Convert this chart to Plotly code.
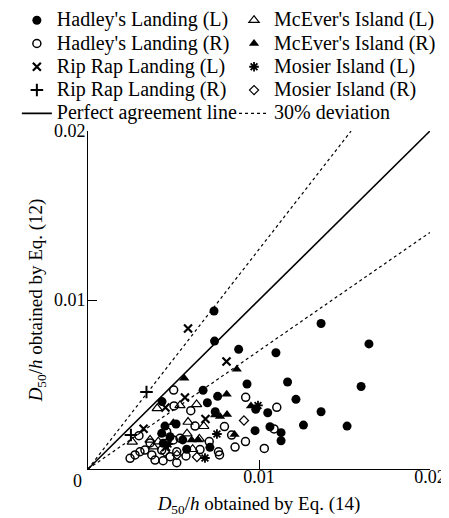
import plotly.graph_objects as go

# ---- data (D50/h by Eq. 14 -> x, by Eq. 12 -> y) ----
hadley_L_x = [0.00737, 0.00740, 0.00881, 0.01099, 0.01363, 0.01643, 0.00930, 0.01167, 0.01597, 0.01216,
              0.01363, 0.01051, 0.01260, 0.01515, 0.00977, 0.01064, 0.01129, 0.01129, 0.00673, 0.00758,
              0.00698, 0.00981, 0.00433, 0.00744, 0.00577, 0.00713, 0.00480, 0.00450, 0.00431, 0.00440,
              0.00515, 0.00554]
hadley_L_y = [0.00935, 0.00757, 0.00708, 0.00688, 0.00861, 0.00740, 0.00503, 0.00515, 0.00488, 0.00412,
              0.00339, 0.00333, 0.00260, 0.00254, 0.00227, 0.00250, 0.00215, 0.00167, 0.00466, 0.00430,
              0.00392, 0.00353, 0.00399, 0.00339, 0.00117, 0.00128, 0.00191, 0.00254, 0.00211, 0.00152,
              0.00266, 0.00172]

hadley_R_x = [0.00501, 0.00922, 0.01104, 0.00503, 0.00601, 0.00626, 0.00798, 0.01088, 0.00921, 0.00860,
              0.01031, 0.00655, 0.00763, 0.00769, 0.00709, 0.00460, 0.00298, 0.00246, 0.00275, 0.00304,
              0.00333, 0.00373, 0.00392, 0.00480, 0.00519, 0.00439, 0.00499, 0.00538, 0.00460, 0.00431,
              0.00519, 0.00840, 0.00573, 0.00363]
hadley_R_y = [0.00467, 0.00424, 0.00365, 0.00373, 0.00345, 0.00254, 0.00251, 0.00237, 0.00162, 0.00130,
              0.00122, 0.00115, 0.00102, 0.00083, 0.00162, 0.00221, 0.00197, 0.00063, 0.00083, 0.00102,
              0.00112, 0.00083, 0.00053, 0.00073, 0.00037, 0.00049, 0.00172, 0.00182, 0.00152, 0.00112,
              0.00102, 0.00201, 0.00077, 0.00154]

ripr_L_x = [0.00585, 0.00810, 0.00567, 0.00453, 0.00687, 0.00325, 0.00456]
ripr_L_y = [0.00831, 0.00636, 0.00423, 0.00364, 0.00296, 0.00238, 0.00130]

ripr_R_x = [0.00342, 0.00251]
ripr_R_y = [0.00456, 0.00201]

mcever_L_x = [0.00405, 0.00538, 0.00635, 0.00585, 0.00677, 0.00579, 0.00651, 0.00259, 0.00363, 0.00382,
              0.00411, 0.00612]
mcever_L_y = [0.00359, 0.00376, 0.00382, 0.00278, 0.00253, 0.00209, 0.00178, 0.00160, 0.00172, 0.00132,
              0.00162, 0.00117]

mcever_R_x = [0.00563, 0.00870, 0.00811, 0.00953, 0.00772, 0.00813, 0.00743, 0.00499, 0.00857, 0.00606,
              0.00645]
mcever_R_y = [0.00537, 0.00590, 0.00442, 0.00373, 0.00311, 0.00322, 0.00320, 0.00274, 0.00204, 0.00172,
              0.00172]

mosier_L_x = [0.00994, 0.00754, 0.00468, 0.00684]
mosier_L_y = [0.00376, 0.00207, 0.00148, 0.00065]

mosier_R_x = [0.00912, 0.00450, 0.00520, 0.00637]
mosier_R_y = [0.00287, 0.00101, 0.00083, 0.00071]

axis_max = 0.02
deviation = 0.30
tick_vals = [0.01, 0.02]
tick_text = ["0.01", "0.02"]

FONT = "Liberation Serif, Times New Roman, serif"
LEG_TXT = '<span style="font-size:20px">{}</span>'

fig = go.Figure()

def pts(name, x, y, symbol, size, lw, legend):
    fig.add_trace(go.Scatter(
        x=x, y=y, mode="markers", name=LEG_TXT.format(name), legend=legend,
        marker=dict(symbol=symbol, size=size, color="black",
                    line=dict(width=lw, color="black")),
        cliponaxis=False))

# left legend column
pts("Hadley's Landing (L)", hadley_L_x, hadley_L_y, "circle", 9, 0, "legend")
pts("Hadley's Landing (R)", hadley_R_x, hadley_R_y, "circle-open", 8, 1.5, "legend")
pts("Rip Rap Landing (L)", ripr_L_x, ripr_L_y, "x-thin", 8, 2.2, "legend")
pts("Rip Rap Landing (R)", ripr_R_x, ripr_R_y, "cross-thin", 9, 2, "legend")
fig.add_trace(go.Scatter(
    x=[0, axis_max], y=[0, axis_max], mode="lines",
    name=LEG_TXT.format("Perfect agreement line"), legend="legend",
    line=dict(color="black", width=1.6)))

# right legend column
pts("McEver's Island (L)", mcever_L_x, mcever_L_y, "triangle-up-open", 9, 1.2, "legend2")
pts("McEver's Island (R)", mcever_R_x, mcever_R_y, "triangle-up", 9, 0, "legend2")
pts("Mosier Island (L)", mosier_L_x, mosier_L_y, "asterisk", 8, 1.8, "legend2")
pts("Mosier Island (R)", mosier_R_x, mosier_R_y, "diamond-open", 7, 1.2, "legend2")

hi = 1 + deviation
lo = 1 - deviation
fig.add_trace(go.Scatter(
    x=[0, axis_max / hi, None, 0, axis_max],
    y=[0, axis_max, None, 0, axis_max * lo],
    mode="lines", name=LEG_TXT.format("30% deviation"), legend="legend2",
    line=dict(color="black", width=1.2, dash="dot")))

axis_common = dict(
    range=[0, axis_max], showline=True, linecolor="black", linewidth=1,
    ticks="inside", ticklen=9, tickwidth=1, tickcolor="black",
    tickvals=tick_vals, ticktext=tick_text, showgrid=False, zeroline=False,
    tickfont=dict(family=FONT, size=18, color="black"), fixedrange=True)

fig.update_xaxes(**axis_common, ticklabelstandoff=-9,
                 title=dict(text="<i>D</i><sub>50</sub>/<i>h</i> obtained by Eq. (14)",
                            font=dict(family=FONT, size=19, color="black"), standoff=11))
fig.update_yaxes(**axis_common, ticklabelstandoff=-2,
                 title=dict(text="<i>D</i><sub>50</sub>/<i>h</i> obtained by Eq. (12)",
                            font=dict(family=FONT, size=19, color="black"), standoff=6))

fig.add_annotation(text="0", x=-0.032, y=-0.036, xref="paper", yref="paper",
                   xanchor="center", yanchor="middle",
                   showarrow=False, font=dict(family=FONT, size=18, color="black"))

leg_common = dict(orientation="v", xref="paper", yref="paper", yanchor="top", xanchor="left",
                  font=dict(family=FONT, size=15.6, color="black"),
                  bgcolor="rgba(0,0,0,0)", borderwidth=0, itemsizing="trace",
                  tracegroupgap=0)

# the page body adds an 8 px offset, so the figure is 8 px smaller than the window
fig.update_layout(
    width=441, height=510,
    margin=dict(l=80, r=19, t=123, b=49, autoexpand=False),
    paper_bgcolor="white", plot_bgcolor="white",
    font=dict(family=FONT, size=16, color="black"),
    showlegend=True,
    legend=dict(**leg_common, x=-0.208, y=1.377),
    legend2=dict(**leg_common, x=0.427, y=1.377),
)

fig.write_html("out.html")
